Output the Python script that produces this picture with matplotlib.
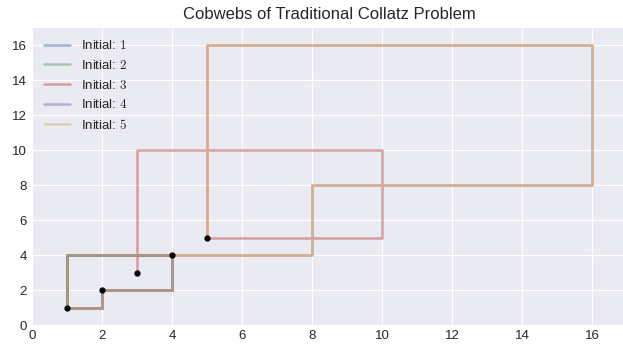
import matplotlib
matplotlib.use('Agg')
import matplotlib.pyplot as plt

plt.style.use('seaborn-v0_8-darkgrid')
plt.rcParams['font.family'] = ['Liberation Sans', 'DejaVu Sans']
plt.rcParams['mathtext.fontset'] = 'cm'

# Collatz orbits for each starting value (n/2 if even, 3n+1 if odd)
initials = [1, 2, 3, 4, 5]
orbits = [
    [1, 4, 2, 1, 4, 2, 1],
    [2, 1, 4, 2, 1, 4, 2, 1],
    [3, 10, 5, 16, 8, 4, 2, 1, 4, 2, 1],
    [4, 2, 1, 4, 2, 1],
    [5, 16, 8, 4, 2, 1, 4, 2, 1],
]
colors = ['#4C72B0', '#55A868', '#C44E52', '#8172B2', '#CCB974']


def cobweb(orbit):
    xs, ys = [orbit[0]], [orbit[0]]
    for cur, nxt in zip(orbit[:-1], orbit[1:]):
        xs += [cur, nxt]
        ys += [nxt, nxt]
    return xs, ys


fig = plt.figure(figsize=(6.23, 3.47), dpi=100)
ax = fig.add_axes([0.0514, 0.0634, 0.955, 0.857])

for x0, orbit, c in zip(initials, orbits, colors):
    xs, ys = cobweb(orbit)
    ax.plot(xs, ys, color=c, alpha=0.5, lw=1.8, label=f'Initial: ${x0}$')

for x0 in initials:
    ax.plot(x0, x0, 'o', color='black', markersize=3.5, zorder=5)

ax.set_xlim(0, 17)
ax.set_ylim(0, 17)
ax.set_xticks(range(0, 17, 2))
ax.set_yticks(range(0, 17, 2))
ax.tick_params(labelsize=9.5)
ax.set_title('Cobwebs of Traditional Collatz Problem', fontsize=12)
ax.legend(loc='upper left', frameon=False, fontsize=9.5)

fig.savefig('out.png', dpi=100)
